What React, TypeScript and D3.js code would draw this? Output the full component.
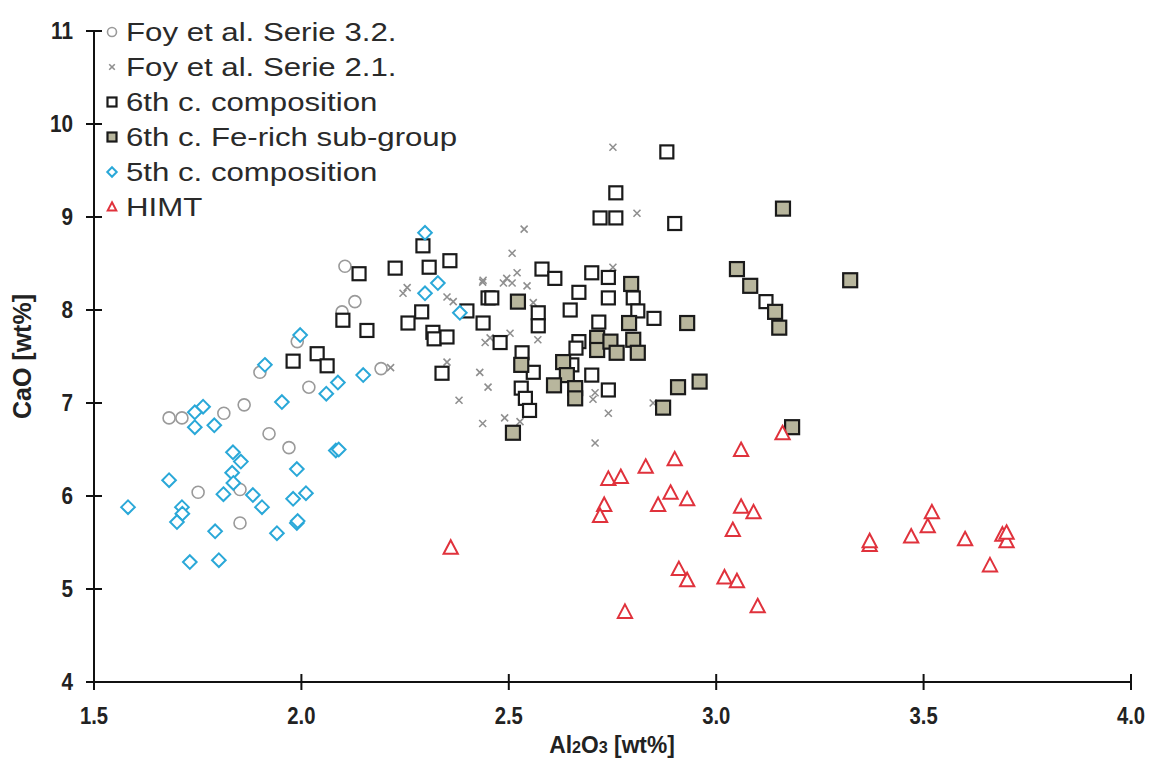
import React from "react";
import * as d3 from "d3";

const foy32: [number, number][] = [
  [2.105, 8.47], [2.129, 8.09], [2.098, 7.98], [2.192, 7.37], [2.018, 7.17], [1.99, 7.66],
  [1.9, 7.33], [1.862, 6.98], [1.813, 6.89], [1.681, 6.84], [1.712, 6.84], [1.922, 6.67],
  [1.97, 6.52], [1.751, 6.04], [1.852, 6.07], [1.852, 5.71],
];

const foy21: [number, number][] = [
  [2.751, 9.75], [2.809, 9.04], [2.537, 8.87], [2.508, 8.61], [2.438, 8.32], [2.495, 8.34],
  [2.508, 8.29], [2.52, 8.4], [2.487, 8.29], [2.544, 8.26], [2.559, 8.08], [2.751, 8.46],
  [2.255, 8.24], [2.245, 8.18], [2.351, 8.14], [2.366, 8.09], [2.215, 7.38], [2.437, 8.3],
  [2.443, 7.65], [2.455, 7.7], [2.503, 7.75], [2.57, 7.68], [2.43, 7.33], [2.45, 7.17],
  [2.38, 7.03], [2.351, 7.44], [2.437, 6.78], [2.49, 6.84], [2.527, 6.8], [2.708, 6.57],
  [2.708, 7.11], [2.703, 7.04], [2.74, 6.89], [2.848, 7.0],
];

const sixth: [number, number][] = [
  [2.293, 8.69], [2.139, 8.39], [2.226, 8.45], [2.308, 8.46], [2.358, 8.53], [2.399, 7.99],
  [2.45, 8.13], [2.438, 7.86], [2.1, 7.89], [2.158, 7.78], [2.257, 7.86], [2.29, 7.98],
  [2.317, 7.76], [2.32, 7.69], [2.351, 7.71], [1.98, 7.45], [2.038, 7.53], [2.062, 7.4],
  [2.339, 7.32], [2.881, 9.7], [2.758, 9.26], [2.72, 8.99], [2.758, 8.99], [2.9, 8.93],
  [2.58, 8.44], [2.611, 8.34], [2.7, 8.4], [2.74, 8.35], [2.459, 8.13], [2.669, 8.19],
  [2.74, 8.13], [2.8, 8.13], [2.571, 7.97], [2.571, 7.83], [2.648, 8.0], [2.479, 7.65],
  [2.717, 7.87], [2.811, 7.99], [2.85, 7.91], [2.669, 7.66], [2.662, 7.59], [2.532, 7.54],
  [2.559, 7.33], [2.652, 7.41], [2.7, 7.3], [2.74, 7.14], [2.53, 7.16], [2.54, 7.05],
  [2.55, 6.92], [3.12, 8.09],
];

const feRich: [number, number][] = [
  [2.522, 8.09], [2.795, 8.28], [2.79, 7.86], [2.8, 7.68], [2.811, 7.54], [2.713, 7.7],
  [2.713, 7.57], [2.745, 7.66], [2.76, 7.54], [2.53, 7.41], [2.631, 7.44], [2.64, 7.3],
  [2.609, 7.19], [2.66, 7.16], [2.66, 7.05], [2.51, 6.68], [2.872, 6.95], [2.908, 7.17],
  [3.161, 9.09], [3.05, 8.44], [3.082, 8.26], [3.142, 7.98], [3.152, 7.81], [3.323, 8.32],
  [2.93, 7.86], [2.96, 7.23], [3.183, 6.74],
];

const fifth: [number, number][] = [
  [2.298, 8.83], [2.329, 8.29], [2.298, 8.18], [2.382, 7.97], [1.997, 7.73], [1.912, 7.41],
  [2.088, 7.22], [2.06, 7.1], [2.149, 7.3], [1.953, 7.01], [1.763, 6.96], [1.743, 6.9],
  [1.743, 6.74], [1.79, 6.76], [2.083, 6.49], [2.09, 6.5], [1.835, 6.47], [1.854, 6.37],
  [1.989, 6.29], [1.833, 6.25], [1.836, 6.14], [1.681, 6.17], [1.812, 6.02], [1.883, 6.01],
  [1.905, 5.88], [1.98, 5.97], [2.011, 6.03], [1.582, 5.88], [1.712, 5.88], [1.713, 5.81],
  [1.7, 5.72], [1.792, 5.62], [1.941, 5.6], [1.989, 5.71], [1.991, 5.73], [1.731, 5.29],
  [1.801, 5.31],
];

const himt: [number, number][] = [
  [2.36, 5.44], [2.74, 6.18], [2.77, 6.2], [2.83, 6.31], [2.9, 6.39], [3.06, 6.49],
  [3.16, 6.67], [2.73, 5.9], [2.72, 5.78], [2.86, 5.9], [2.89, 6.03], [2.93, 5.96],
  [3.06, 5.88], [3.09, 5.82], [3.04, 5.63], [2.91, 5.21], [2.93, 5.09], [3.02, 5.12],
  [3.05, 5.08], [3.1, 4.81], [2.78, 4.75], [3.37, 5.47], [3.37, 5.51], [3.47, 5.56],
  [3.51, 5.67], [3.52, 5.82], [3.6, 5.53], [3.66, 5.25], [3.69, 5.58], [3.7, 5.51],
  [3.7, 5.6],
];

const xTicks = [1.5, 2.0, 2.5, 3.0, 3.5, 4.0];
const yTicks = [4, 5, 6, 7, 8, 9, 10, 11];
const legendLabels = [
  "Foy et al. Serie 3.2.",
  "Foy et al. Serie 2.1.",
  "6th c. composition",
  "6th c. Fe-rich sub-group",
  "5th c. composition",
  "HIMT",
];

const W = 1153;
const H = 760;
const FONT = "Liberation Sans, Arial, sans-serif";

type Kind = "circle" | "cross" | "square" | "squareFill" | "diamond" | "triangle";

function Marker({ kind, cx, cy, s }: { kind: Kind; cx: number; cy: number; s: number }) {
  const h = s / 2;
  switch (kind) {
    case "circle":
      return <circle cx={cx} cy={cy} r={h} fill="white" stroke="#9a9a9a" strokeWidth={1.6} />;
    case "cross":
      return (
        <path
          d={`M${cx - h * 0.7},${cy - h * 0.7}L${cx + h * 0.7},${cy + h * 0.7}M${cx - h * 0.7},${cy + h * 0.7}L${cx + h * 0.7},${cy - h * 0.7}`}
          stroke="#8f8f8f"
          strokeWidth={1.6}
          fill="none"
        />
      );
    case "square":
      return <rect x={cx - h} y={cy - h} width={s} height={s} fill="white" stroke="#1a1a1a" strokeWidth={2.2} />;
    case "squareFill":
      return <rect x={cx - h} y={cy - h} width={s} height={s} fill="#b8b69d" stroke="#1a1a1a" strokeWidth={2.2} />;
    case "diamond":
      return (
        <path
          d={`M${cx},${cy - h * 1.05}L${cx + h * 1.05},${cy}L${cx},${cy + h * 1.05}L${cx - h * 1.05},${cy}Z`}
          fill="white"
          stroke="#2aa8d8"
          strokeWidth={2}
        />
      );
    case "triangle":
      return (
        <path
          d={`M${cx},${cy - h * 1.05}L${cx + h * 0.95},${cy + h * 0.75}L${cx - h * 0.95},${cy + h * 0.75}Z`}
          fill="white"
          stroke="#e0323c"
          strokeWidth={2}
        />
      );
  }
  return null;
}

export default function App() {
  const x = d3.scaleLinear().domain([1.5, 4]).range([94, 1131]);
  const y = d3.scaleLinear().domain([4, 11]).range([682, 31]);

  const series: { data: [number, number][]; kind: Kind; size: number }[] = [
    { data: foy32, kind: "circle", size: 12 },
    { data: foy21, kind: "cross", size: 10 },
    { data: sixth, kind: "square", size: 13 },
    { data: feRich, kind: "squareFill", size: 14 },
    { data: fifth, kind: "diamond", size: 13 },
    { data: himt, kind: "triangle", size: 15 },
  ];
  const legendKinds: Kind[] = ["circle", "cross", "square", "squareFill", "diamond", "triangle"];

  return (
    <svg width={W} height={H} style={{ position: "absolute", left: 0, top: 0, background: "white" }}>
      <rect width={W} height={H} fill="white" />
      {/* axes */}
      <line x1={x(1.5)} x2={x(1.5)} y1={y(11)} y2={y(4)} stroke="#111" strokeWidth={2} />
      <line x1={x(1.5)} x2={x(4)} y1={y(4)} y2={y(4)} stroke="#111" strokeWidth={2} />
      {yTicks.map((t) => (
        <g key={"y" + t}>
          <line x1={x(1.5) - 8} x2={x(1.5) + 8} y1={y(t)} y2={y(t)} stroke="#111" strokeWidth={2} />
          <text
            transform={`translate(73,${y(t)}) scale(0.9,1)`}
            dy="0.36em"
            textAnchor="end"
            fontFamily={FONT}
            fontWeight="bold"
            fontSize={23}
            fill="#222"
          >
            {t}
          </text>
        </g>
      ))}
      {xTicks.map((t) => (
        <g key={"x" + t}>
          <line x1={x(t)} x2={x(t)} y1={y(4) - 8} y2={y(4) + 8} stroke="#111" strokeWidth={2} />
          <text
            transform={`translate(${x(t)},724) scale(0.88,1)`}
            textAnchor="middle"
            fontFamily={FONT}
            fontWeight="bold"
            fontSize={23}
            fill="#222"
          >
            {t.toFixed(1)}
          </text>
        </g>
      ))}
      <text
        transform={`translate(31,${(y(4) + y(11)) / 2}) rotate(-90)`}
        textAnchor="middle"
        fontFamily={FONT}
        fontWeight="bold"
        fontSize={25}
        fill="#222"
      >
        CaO [wt%]
      </text>
      <text
        transform="translate(612,753) scale(0.95,1)"
        textAnchor="middle"
        fontFamily={FONT}
        fontWeight="bold"
        fontSize={24}
        fill="#222"
      >
        Al<tspan fontSize={17}>2</tspan>O<tspan fontSize={17}>3</tspan> [wt%]
      </text>

      {/* points */}
      {series.map((s, si) => (
        <g key={"s" + si}>
          {s.data.map((d, i) => (
            <Marker key={i} kind={s.kind} cx={x(d[0])} cy={y(d[1])} s={s.size} />
          ))}
        </g>
      ))}

      {/* legend */}
      {legendLabels.map((lab, i) => {
        const cy = 32 + i * 35;
        return (
          <g key={"l" + i}>
            <Marker kind={legendKinds[i]} cx={112} cy={cy} s={i === 1 ? 8 : 9} />
            <text
              transform={`translate(126,${cy}) scale(1.2,1)`}
              dy="0.36em"
              fontFamily={FONT}
              fontSize={26}
              fill="#2a2a2a"
            >
              {lab}
            </text>
          </g>
        );
      })}
    </svg>
  );
}
